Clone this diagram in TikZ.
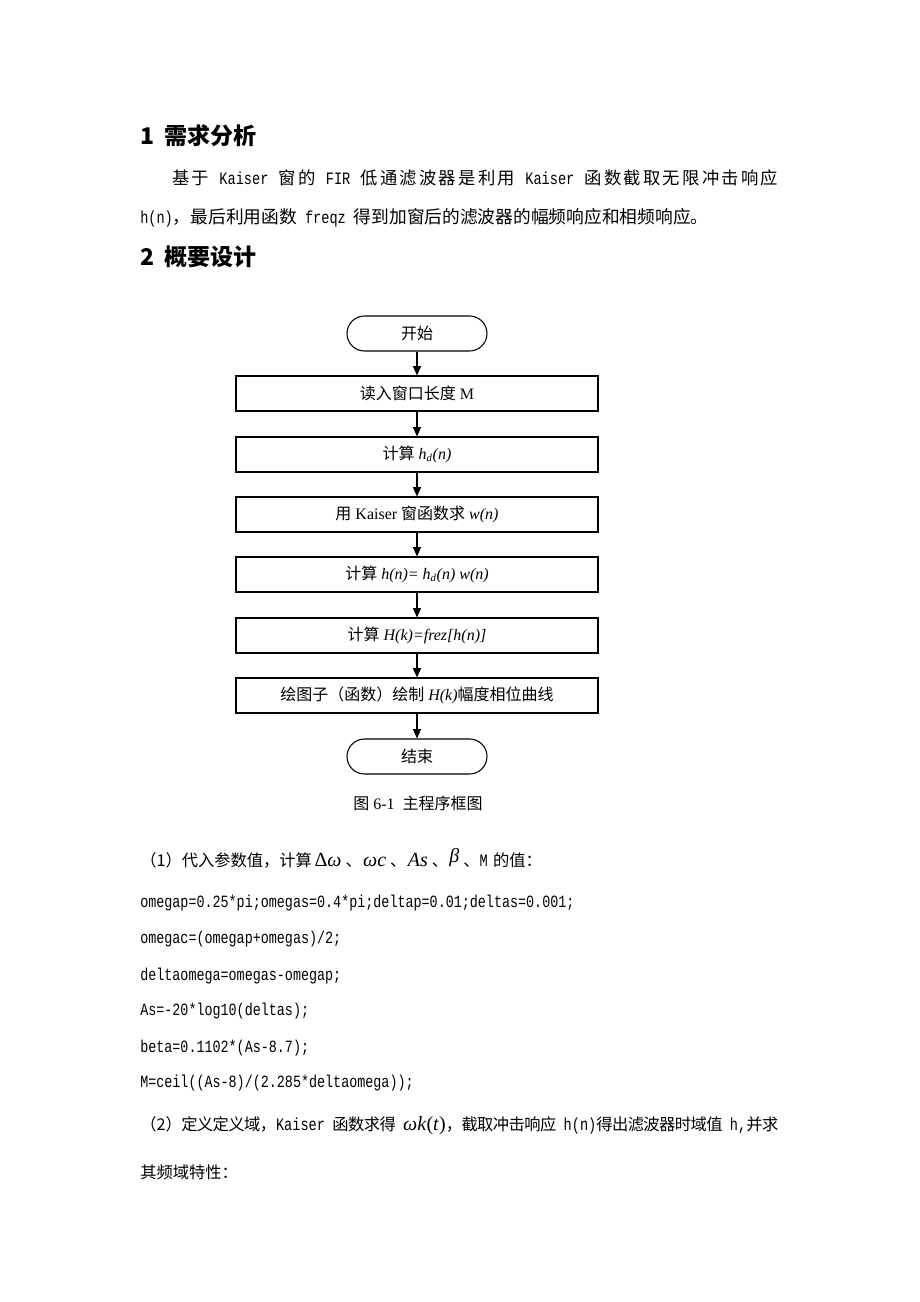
\documentclass[tikz,border=0pt]{standalone}
\usepackage{fontspec}
\usepackage{graphicx}
\setmainfont{Liberation Serif}
\setmonofont{Liberation Mono}
\newfontfamily\cjk{Noto Sans CJK SC}
\usetikzlibrary{arrows.meta}
\newcommand\zh[2][13]{{\fontsize{#1}{#1}\selectfont\cjk #2}}
\newcommand\tm[2][12]{{\fontsize{#1}{#1}\selectfont\rmfamily #2}}
\newcommand\mono[1]{\scalebox{1}[1.28]{\ttfamily #1}}
\newcommand\gap{\hspace{6pt plus 1pt minus 0.6pt}}
\newcount\zhc
\zhc="4E00
\loop
  \XeTeXcharclass\zhc=200
  \advance\zhc 1
\ifnum\zhc<"A000 \repeat
\zhc="3000
\loop
  \XeTeXcharclass\zhc=200
  \advance\zhc 1
\ifnum\zhc<"3040 \repeat
\zhc="FF00
\loop
  \XeTeXcharclass\zhc=200
  \advance\zhc 1
\ifnum\zhc<"FFF0 \repeat
\XeTeXinterchartoks 200 200 = {\hskip 0pt plus 1pt minus 0.6pt}
\newcommand\jline[2]{\makebox[#1][s]{\XeTeXinterchartokenstate=1 #2}}
\begin{document}
\begin{tikzpicture}[x=0.75pt,y=-0.75pt,
  txt/.style={inner sep=0pt, anchor=base west},
  body/.style={txt, font=\fontsize{10.2}{10.2}\selectfont\ttfamily},
  code/.style={txt, font=\fontsize{10.05}{10.05}\selectfont\ttfamily},
  head/.style={txt, font=\fontsize{17.25}{17.25}\selectfont\cjk\bfseries},
  stepbox/.style={draw, line width=0.8pt, minimum width=271.5pt, minimum height=26.25pt, inner sep=0pt, font=\fontsize{12}{12}\selectfont},
  term/.style={stepbox, minimum width=105pt, rounded corners=13.1pt},
  arr/.style={-{Triangle[width=6pt,length=7pt]}, line width=0.8pt}]
\useasboundingbox[fill=white] (0,0) rectangle (920,1302);

% headings
\node[head] (h1) at (140,144.7) {1\hspace{0.45em}需求分析};
\node[head] (h2) at (140,265.7) {2\hspace{0.45em}概要设计};

% paragraph
\node[body] (p1) at (172,184.6) {\jline{454.5pt}{\zh{基于}\gap\mono{Kaiser}\gap\zh{窗的}\gap\mono{FIR}\gap\zh{低通滤波器是利用}\gap\mono{Kaiser}\gap\zh{函数截取无限冲击响应}}};
\node[body] (p2) at (140,223.6) {\mono{h(n)}\zh[13.3]{，最后利用函数}\gap\mono{freqz}\gap\zh[13.3]{得到加窗后的滤波器的幅频响应和相频响应。}};

% flowchart
\node[term] (s) at (417,333.5) {\zh[12]{开始}};
\node[stepbox] (b1) at (417,393.5) {\zh[12]{读入窗口长度} M};
\node[stepbox] (b2) at (417,454.5) {\zh[12]{计算} \textit{h\textsubscript{d}(n)}};
\node[stepbox] (b3) at (417,514.5) {\zh[12]{用} Kaiser \zh[12]{窗函数求} \textit{w(n)}};
\node[stepbox] (b4) at (417,574.5) {\zh[12]{计算} \textit{h(n)= h\textsubscript{d}(n) w(n)}};
\node[stepbox] (b5) at (417,635.5) {\zh[12]{计算} \textit{H(k)=frez[h(n)]}};
\node[stepbox] (b6) at (417,695.5) {\zh[12]{绘图子（函数）绘制} \textit{H(k)}\zh[12]{幅度相位曲线}};
\node[term] (e) at (417,756.5) {\zh[12]{结束}};
\draw[arr] (s) -- (b1);
\draw[arr] (b1) -- (b2);
\draw[arr] (b2) -- (b3);
\draw[arr] (b3) -- (b4);
\draw[arr] (b4) -- (b5);
\draw[arr] (b5) -- (b6);
\draw[arr] (b6) -- (e);

\node[inner sep=0pt, font=\fontsize{12}{12}\selectfont] (cap) at (418,803) {\zh[12]{图} 6-1\hspace{6pt}\zh[12]{主程序框图}};

% (1)
\node[body] (l1) at (140,866) {\zh[12.2]{（1）代入参数值，计算}\hspace{2pt}\tm[15]{Δ\textit{ω}}\hspace{3pt}\zh[12.2]{、}\hspace{1pt}\tm[15]{\textit{ωc}}\hspace{3pt}\zh[12.2]{、}\hspace{1pt}\tm[15]{\textit{As}}\hspace{3pt}\zh[12.2]{、}\hspace{1pt}\raisebox{3pt}{\tm[15]{\textit{β}}}\hspace{3pt}\zh[12.2]{、}\mono{M}\hspace{4pt}\zh[12.2]{的值：}};

% code
\node[code] (c1) at (140,907.5) {\mono{omegap=0.25*pi;omegas=0.4*pi;deltap=0.01;deltas=0.001;}};
\node[code] (c2) at (140,943) {\mono{omegac=(omegap+omegas)/2;}};
\node[code] (c3) at (140,980) {\mono{deltaomega=omegas-omegap;}};
\node[code] (c4) at (140,1015) {\mono{As=-20*log10(deltas);}};
\node[code] (c5) at (140,1052) {\mono{beta=0.1102*(As-8.7);}};
\node[code] (c6) at (140,1087) {\mono{M=ceil((As-8)/(2.285*deltaomega));}};

% (2)
\node[body] (l2) at (140,1130) {\jline{478.5pt}{\zh[12.2]{（2）定义定义域，}\mono{Kaiser}\gap\zh[12.2]{函数求得}\gap\tm[15]{\textit{ωk}(\textit{t})}\zh[12.2]{，截取冲击响应}\gap\mono{h(n)}\zh[12.2]{得出滤波器时域值}\gap\mono{h,}\zh[12.2]{并求}}};
\node[body] (l3) at (140,1178) {\zh[12.2]{其频域特性：}};
\end{tikzpicture}
\end{document}
